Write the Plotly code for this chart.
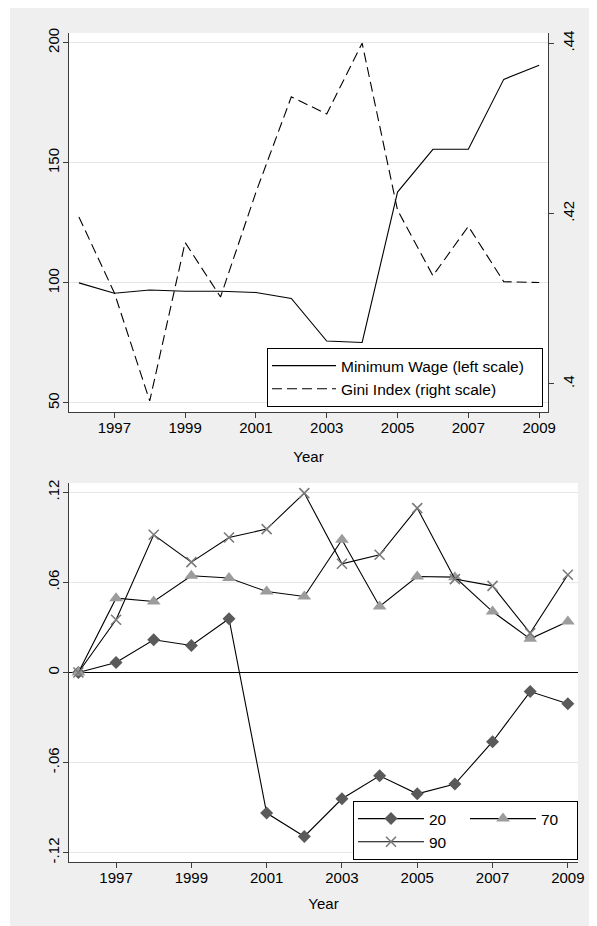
import plotly.graph_objects as go

years = list(range(1996, 2010))
min_wage = [100.0, 95.7, 97.0, 96.5, 96.5, 96.0, 93.5, 75.8, 75.2, 137.8, 155.6, 155.6, 184.7, 190.6]
gini = [0.4196, 0.4107, 0.3980, 0.4166, 0.4102, 0.4225, 0.4337, 0.4317, 0.4400,
        0.4204, 0.4127, 0.4185, 0.4120, 0.4119]

p20 = [0.0, 0.0067, 0.0218, 0.0180, 0.0358, -0.0936, -0.1092, -0.0841, -0.0688,
       -0.0808, -0.0743, -0.0461, -0.0127, -0.0208]
p70 = [0.0, 0.0495, 0.0473, 0.0644, 0.0629, 0.0539, 0.0506, 0.0884, 0.0440,
       0.0639, 0.0635, 0.0406, 0.0224, 0.0340]
p90 = [0.0, 0.0351, 0.0917, 0.0735, 0.0899, 0.0955, 0.1195, 0.0724, 0.0784,
       0.1095, 0.0622, 0.0577, 0.0262, 0.0651]

year_ticks = [1997, 1999, 2001, 2003, 2005, 2007, 2009]
wage_ticks = [50, 100, 150, 200]
wage_ticktext = ["50", "100", "150", "200"]
gini_tickvals = [0.40, 0.42, 0.44]
gini_ticktext = [".4", ".42", ".44"]
gap_tickvals = [-0.12, -0.06, 0, 0.06, 0.12]
gap_ticktext = ["-.12", "-.06", "0", ".06", ".12"]

# page is offset by the default 8px body margin
OFF = 8
W, H = 597 - OFF, 926 - OFF
FONT = "Liberation Sans, Arial, sans-serif"
BG = "#efefef"
AX = "#3c3c3c"
GRID = "#e6e6e6"


def px_x(p):
    return (p - OFF) / W


def px_y(p):
    return 1 - (p - OFF) / H


fig = go.Figure()

# Top panel
fig.add_trace(go.Scatter(x=years, y=min_wage, mode="lines", name="Minimum Wage (left scale)",
                         line=dict(color="black", width=1.1), xaxis="x", yaxis="y",
                         legend="legend", legendgroup="top"))
fig.add_trace(go.Scatter(x=years, y=gini, mode="lines", name="Gini Index (right scale)",
                         line=dict(color="black", width=1.1, dash="10px,5px"),
                         xaxis="x", yaxis="y2", legend="legend", legendgroup="top"))

# Bottom panel
fig.add_trace(go.Scatter(x=years, y=p20, mode="lines+markers", name="20",
                         line=dict(color="black", width=1.1),
                         marker=dict(symbol="diamond", size=10, color="#5a5a5a"),
                         xaxis="x2", yaxis="y3", legend="legend2", legendgroup="c1"))
fig.add_trace(go.Scatter(x=years, y=p70, mode="lines+markers", name="70",
                         line=dict(color="black", width=1.1),
                         marker=dict(symbol="triangle-up", size=12, color="#9c9c9c"),
                         xaxis="x2", yaxis="y3", legend="legend2", legendgroup="c2"))
fig.add_trace(go.Scatter(x=years, y=p90, mode="lines+markers", name="90",
                         line=dict(color="black", width=1.1),
                         marker=dict(symbol="x-thin-open", size=10, color="#7a7a7a",
                                     line=dict(width=1.6, color="#7a7a7a")),
                         xaxis="x2", yaxis="y3", legend="legend2", legendgroup="c1"))

common_axis = dict(showline=True, linecolor=AX, linewidth=1, ticks="outside", ticklen=5,
                   tickcolor=AX, tickwidth=1, tickfont=dict(family=FONT, size=15, color="black"))

top_dom_x = [px_x(69), px_x(548)]
top_dom_y = [px_y(412), px_y(33)]
bot_dom_x = [px_x(69), px_x(578)]
bot_dom_y = [px_y(862), px_y(483)]

fig.update_layout(
    width=W, height=H,
    margin=dict(l=0, r=0, t=0, b=0, autoexpand=False),
    paper_bgcolor=BG, plot_bgcolor="white",
    showlegend=True,
    font=dict(family=FONT, size=15, color="black"),
    xaxis=dict(domain=top_dom_x, anchor="y", range=[1995.72, 2009.25], tickvals=year_ticks,
               showgrid=False, zeroline=False, ticklabelstandoff=-3,
               title=dict(text="Year", font=dict(family=FONT, size=15), standoff=16),
               **common_axis),
    yaxis=dict(domain=top_dom_y, anchor="x", range=[46.25, 204], tickvals=wage_ticks,
               ticktext=wage_ticktext, tickangle=-90, showgrid=True, gridcolor=GRID, gridwidth=1,
               zeroline=False, ticklabelstandoff=-2, **common_axis),
    yaxis2=dict(domain=top_dom_y, anchor="x", overlaying="y", side="right",
                range=[0.3967, 0.4412], tickvals=gini_tickvals, ticktext=gini_ticktext,
                tickangle=-90, showgrid=False, zeroline=False, ticklabelstandoff=2,
                **common_axis),
    xaxis2=dict(domain=bot_dom_x, anchor="y3", range=[1995.75, 2009.27], tickvals=year_ticks,
                showgrid=False, zeroline=False, ticklabelstandoff=-3,
                title=dict(text="Year", font=dict(family=FONT, size=15), standoff=13),
                **common_axis),
    yaxis3=dict(domain=bot_dom_y, anchor="x2", range=[-0.1262, 0.1262], tickvals=gap_tickvals,
                ticktext=gap_ticktext, tickangle=-90, showgrid=True, gridcolor=GRID, gridwidth=1,
                ticklabelstandoff=-2, zeroline=True, zerolinecolor="black", zerolinewidth=1,
                **common_axis),
    legend=dict(xref="paper", yref="paper", x=px_x(543), xanchor="right",
                y=px_y(407), yanchor="bottom", bgcolor="white", bordercolor="black",
                borderwidth=1, font=dict(family=FONT, size=15.5), itemwidth=64,
                orientation="h", traceorder="grouped", tracegroupgap=0, entrywidth=196),
    legend2=dict(xref="paper", yref="paper", x=px_x(353), xanchor="left",
                 y=px_y(860), yanchor="bottom", bgcolor="white", bordercolor="black",
                 borderwidth=1, font=dict(family=FONT, size=15.5), itemwidth=66,
                 orientation="h", traceorder="grouped", tracegroupgap=0, entrywidth=31),
    shapes=[
        dict(type="rect", xref="paper", yref="paper", x0=0, x1=2 / W, y0=0, y1=1,
             fillcolor="white", line=dict(width=0), layer="below"),
    ],
)

fig.write_html("out.html")
